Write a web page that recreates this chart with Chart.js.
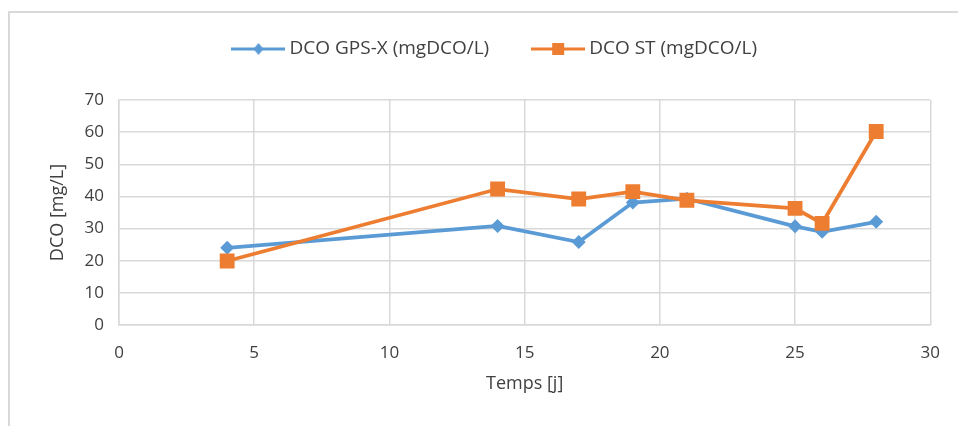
<!DOCTYPE html>
<html>
<head>
<meta charset="utf-8">
<script src="https://cdn.jsdelivr.net/npm/chart.js@4.4.1/dist/chart.umd.min.js"></script>
<style>
  html, body { margin: 0; padding: 0; background: #fff; overflow: hidden; }
  #wrap { position: relative; width: 958px; height: 426px; }
  #frame { position: absolute; left: 8px; top: 11px; width: 1000px; height: 500px;
           border: 2px solid #d9d9d9; box-sizing: border-box; }
  #chart { position: absolute; left: 0; top: 0; }
</style>
</head>
<body>
<div id="wrap">
  <div id="frame"></div>
  <canvas id="chart" width="958" height="426"></canvas>
</div>
<script>
// data
const days = [4, 14, 17, 19, 21, 25, 26, 28];
const dcoGpsX = [24.0, 30.8, 25.8, 38.1, 39.3, 30.7, 29.0, 32.1];
const dcoSt = [19.9, 42.3, 39.2, 41.5, 38.8, 36.3, 31.6, 60.2];
const seriesLabels = ['DCO GPS-X (mgDCO/L)', 'DCO ST (mgDCO/L)'];
const xTitle = 'Temps [j]';
const yTitle = 'DCO [mg/L]';

const COLORS = {
    blue: '#5b9bd5',
    orange: '#ed7d31',
    grid: '#d9d9d9',
    text: '#404040'
};

const FONT = "'Open Sans', sans-serif";

// legend icon: a short line with the marker in the middle
function makeLegendIcon(color, style) {
    const c = document.createElement('canvas');
    c.width = 54;
    c.height = 16;
    const ctx = c.getContext('2d');
    ctx.strokeStyle = color;
    ctx.fillStyle = color;
    ctx.lineWidth = 3;
    ctx.beginPath();
    ctx.moveTo(0, 8);
    ctx.lineTo(54, 8);
    ctx.stroke();
    ctx.beginPath();
    if (style === 'diamond') {
        ctx.moveTo(27, 2);
        ctx.lineTo(32, 8);
        ctx.lineTo(27, 14);
        ctx.lineTo(22, 8);
    } else {
        ctx.rect(21, 2, 12, 12);
    }
    ctx.closePath();
    ctx.fill();
    return c;
}

const legendIcons = [
    makeLegendIcon(COLORS.blue, 'diamond'),
    makeLegendIcon(COLORS.orange, 'square')
];

const toPoints = ys => days.map((d, i) => ({ x: d, y: ys[i] }));

// extra room under the legend, and a small nudge to the right
const legendLayout = {
    id: 'legendLayout',
    beforeInit(chart) {
        const fit = chart.legend.fit;
        chart.legend.fit = function () {
            fit.call(this);
            this.height += 31.5;
        };
    },
    afterLayout(chart) {
        chart.legend.left += 8;
        chart.legend.right += 8;
    }
};

const ctx = document.getElementById('chart').getContext('2d');
new Chart(ctx, {
    type: 'line',
    data: {
        datasets: [
            {
                label: seriesLabels[0],
                data: toPoints(dcoGpsX),
                borderColor: COLORS.blue,
                backgroundColor: COLORS.blue,
                borderWidth: 3.75,
                pointStyle: 'rectRot',
                pointRadius: 7,
                pointBorderWidth: 0,
                tension: 0,
                order: 1
            },
            {
                label: seriesLabels[1],
                data: toPoints(dcoSt),
                borderColor: COLORS.orange,
                backgroundColor: COLORS.orange,
                borderWidth: 3.75,
                pointStyle: 'rect',
                pointRadius: 10.5,
                pointBorderWidth: 0,
                tension: 0,
                order: 0
            }
        ]
    },
    plugins: [legendLayout],
    options: {
        responsive: false,
        devicePixelRatio: 1,
        animation: false,
        layout: {
            padding: { left: 47, right: 27, top: -8, bottom: 29 }
        },
        plugins: {
            tooltip: { enabled: false },
            legend: {
                position: 'top',
                labels: {
                    usePointStyle: true,
                    pointStyleWidth: 43,
                    boxHeight: 16,
                    padding: 47.5,
                    color: COLORS.text,
                    font: { family: FONT, size: 19 },
                    sort: (a, b) => a.datasetIndex - b.datasetIndex,
                    generateLabels(chart) {
                        const items = Chart.defaults.plugins.legend.labels.generateLabels(chart);
                        items.forEach(item => { item.pointStyle = legendIcons[item.datasetIndex]; });
                        return items;
                    }
                }
            }
        },
        scales: {
            x: {
                type: 'linear',
                min: 0,
                max: 30,
                ticks: {
                    stepSize: 5,
                    padding: 18,
                    color: COLORS.text,
                    font: { family: FONT, size: 17 }
                },
                grid: { color: COLORS.grid, lineWidth: 1.5, drawTicks: false },
                border: { color: COLORS.grid, width: 1.5 },
                title: {
                    display: true,
                    text: xTitle,
                    color: COLORS.text,
                    font: { family: FONT, size: 18 },
                    padding: { top: 0, bottom: 2 }
                },
                afterFit(scale) { scale.height = 72; }
            },
            y: {
                min: 0,
                max: 70,
                ticks: {
                    stepSize: 10,
                    padding: 15,
                    color: COLORS.text,
                    font: { family: FONT, size: 17 }
                },
                grid: { color: COLORS.grid, lineWidth: 1.5, drawTicks: false },
                border: { color: COLORS.grid, width: 1.5 },
                title: {
                    display: true,
                    text: yTitle,
                    color: COLORS.text,
                    font: { family: FONT, size: 18 },
                    padding: { top: 0, bottom: 0 }
                },
                afterFit(scale) { scale.width = 72; }
            }
        }
    }
});
</script>
</body>
</html>
